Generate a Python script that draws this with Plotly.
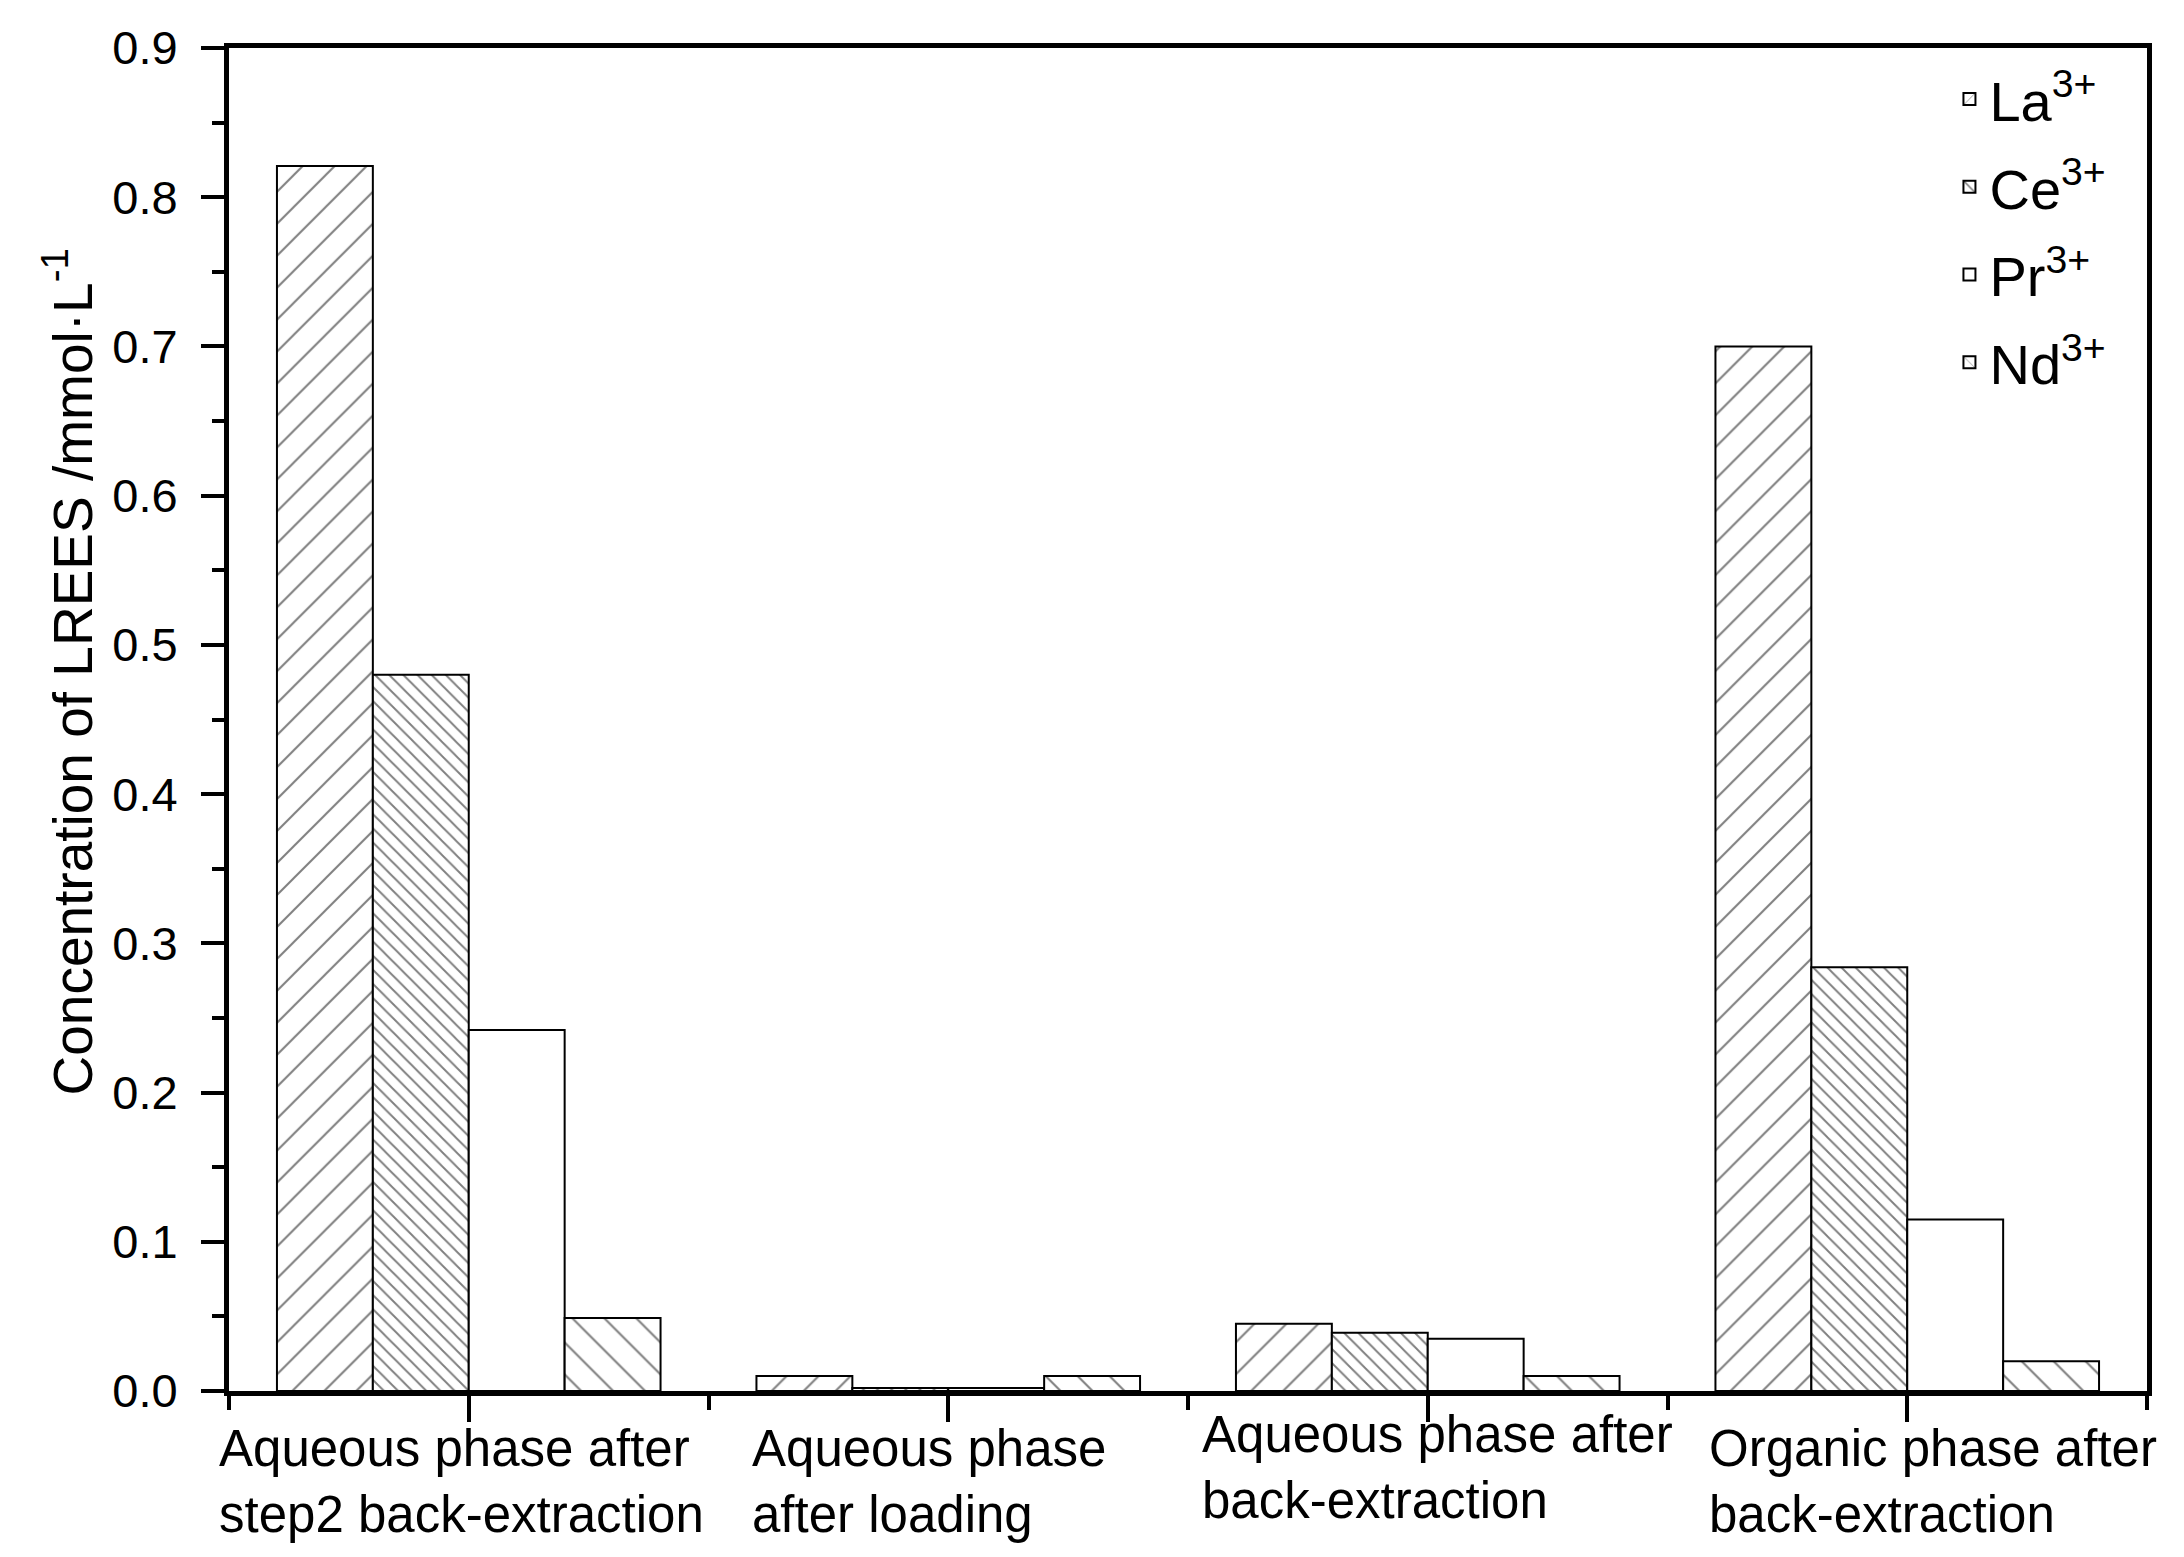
import plotly.graph_objects as go

# data
categories = [
    "Aqueous phase after<br>step2 back-extraction",
    "Aqueous phase<br>after loading",
    "Aqueous phase after<br>back-extraction",
    "Organic phase after<br>back-extraction",
]
ions = ["La<sup>3+</sup>", "Ce<sup>3+</sup>", "Pr<sup>3+</sup>", "Nd<sup>3+</sup>"]
la = [0.821, 0.010, 0.045, 0.700]
ce = [0.480, 0.002, 0.039, 0.284]
pr = [0.242, 0.002, 0.035, 0.115]
nd = [0.049, 0.010, 0.010, 0.020]
y_ticks = [0.0, 0.1, 0.2, 0.3, 0.4, 0.5, 0.6, 0.7, 0.8, 0.9]

series = [la, ce, pr, nd]
# hatch style per ion: (shape, size, solidity)
hatches = [("/", 22.6, 0.09), ("\\", 10.0, 0.19), ("", 8, 0.1), ("\\", 22.6, 0.09)]

FONT = "Liberation Sans, Arial, sans-serif"
pos = list(range(len(categories)))

fig = go.Figure()
for name, vals, (shape, size, sol) in zip(ions, series, hatches):
    fig.add_trace(go.Bar(
        x=pos, y=vals, name=name, legendgroup=name,
        marker=dict(color="white",
                    line=dict(color="black", width=2),
                    pattern=dict(shape=shape, size=size, solidity=sol,
                                 fgcolor="black", bgcolor="white")),
    ))

# category labels, left aligned like the original
label_x = [-0.0065, 0.2716, 0.5062, 0.7705]
label_shift = [-27, -27, -13, -27]
for text, lx, ys in zip(categories, label_x, label_shift):
    fig.add_annotation(text=text, x=lx, y=0, xref="paper", yref="paper",
                       xanchor="left", yanchor="top", align="left", yshift=ys,
                       showarrow=False, font=dict(family=FONT, size=51, color="black"))

# y axis title, placed by hand (sits a bit above the middle in the original)
fig.add_annotation(text="Concentration of LREES /mmol·L<sup>-1</sup>",
                   x=0, y=0.535, xref="paper", yref="paper", xshift=-160,
                   xanchor="center", yanchor="middle", textangle=-90,
                   showarrow=False, font=dict(family=FONT, size=55, color="black"))

fig.update_layout(
    width=2184, height=1557,
    margin=dict(l=221, r=45, t=40, b=174),
    paper_bgcolor="white", plot_bgcolor="white",
    barmode="group", bargap=0.2, bargroupgap=0,
    font=dict(family=FONT, color="black"),
    showlegend=True,
    legend=dict(x=0.897, y=0.994, xanchor="left", yanchor="top",
                font=dict(family=FONT, size=56), bgcolor="rgba(0,0,0,0)",
                itemwidth=30, traceorder="grouped", tracegroupgap=12),
)
fig.update_xaxes(
    range=[-0.5, 3.5], tickvals=pos, showticklabels=False,
    ticks="outside", ticklen=26, tickwidth=4, tickcolor="black",
    minor=dict(tickvals=[p - 0.5 for p in pos] + [pos[-1] + 0.5],
               ticks="outside", ticklen=14, tickwidth=4, tickcolor="black"),
    showline=True, linewidth=5, linecolor="black", mirror=True,
    showgrid=False, zeroline=False,
)
fig.update_yaxes(
    range=[0, 0.9], tickvals=y_ticks, tickformat=".1f",
    ticks="outside", ticklen=23, tickwidth=4, tickcolor="black",
    minor=dict(dtick=0.05, ticks="outside", ticklen=12, tickwidth=4, tickcolor="black"),
    tickfont=dict(family=FONT, size=47), ticklabelstandoff=14,
    showline=True, linewidth=5, linecolor="black", mirror=True,
    showgrid=False, zeroline=False,
)

fig.write_html("out.html")
